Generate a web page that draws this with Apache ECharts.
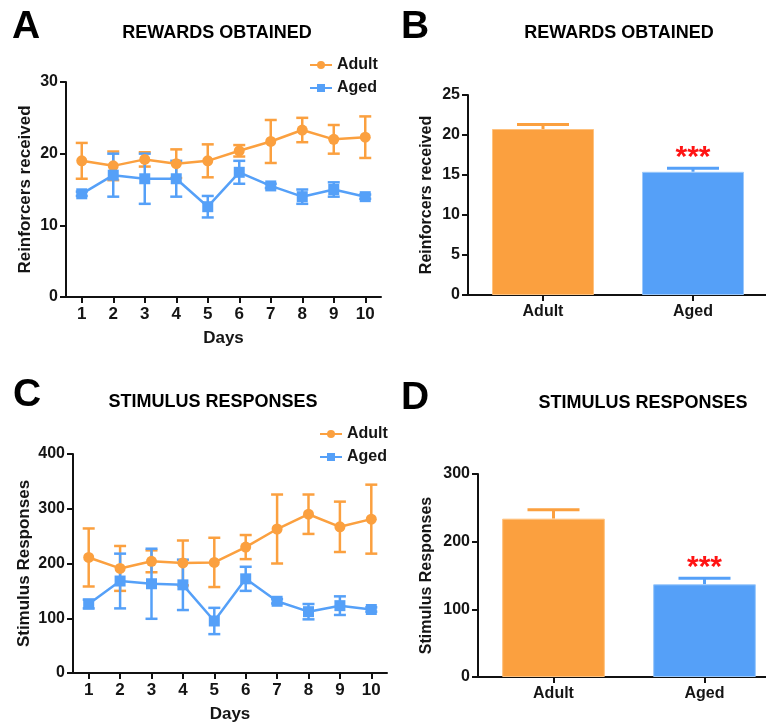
<!DOCTYPE html>
<html><head><meta charset="utf-8">
<script src="https://cdn.jsdelivr.net/npm/echarts@6/dist/echarts.min.js"></script>
<style>html,body{margin:0;padding:0;background:#fff}#c{width:766px;height:723px}</style>
</head><body><div id="c"></div>
<script>
const days = ['1','2','3','4','5','6','7','8','9','10'];
const rewardAdult = [19.0, 18.3, 19.2, 18.6, 19.0, 20.4, 21.7, 23.3, 22.0, 22.3];
const rewardAdultErr = [2.5, 2.0, 1.0, 2.0, 2.3, 0.8, 3.0, 1.7, 2.0, 2.9];
const rewardAged = [14.4, 17.0, 16.5, 16.5, 12.6, 17.4, 15.5, 14.0, 15.0, 14.0];
const rewardAgedErr = [0.3, 3.0, 3.5, 2.5, 1.5, 1.6, 0.3, 1.0, 1.0, 0.3];
const stimAdult = [211, 191, 204, 201, 202, 230, 263, 290, 267, 281];
const stimAdultErr = [53, 41, 20, 41, 45, 22, 63, 36, 46, 63];
const stimAged = [126, 168, 163, 161, 95, 172, 131, 112, 123, 116];
const stimAgedErr = [8, 50, 64, 46, 24, 22, 4, 14, 17, 4];
const groups = ['Adult', 'Aged'];
const rewardTotal = [20.75, 15.4];
const rewardTotalErr = [0.55, 0.45];
const stimTotal = [234, 137];
const stimTotalErr = [13, 9];
const sigMarks = ['', '***'];
const yTicksA = [0, 10, 20, 30];
const yTicksB = [0, 5, 10, 15, 20, 25];
const yTicksC = [0, 100, 200, 300, 400];
const yTicksD = [0, 100, 200, 300];

const ORANGE = '#FBA03F';
const BLUE = '#55A0F8';
const FONT = '"Liberation Sans", Arial, Helvetica, sans-serif';
const TXT = '#151515';

const chart = echarts.init(document.getElementById('c'), null, {renderer: 'canvas'});

function yAxis(gi, ticks, name, nameSize, nameGap) {
  return {
    type: 'value', gridIndex: gi, min: ticks[0], max: ticks[ticks.length - 1],
    interval: ticks[1] - ticks[0],
    name: name, nameLocation: 'middle', nameGap: nameGap,
    nameTextStyle: {fontFamily: FONT, fontWeight: 'bold', fontSize: nameSize, color: TXT},
    axisLine: {show: true, lineStyle: {color: '#111', width: 2}},
    axisTick: {show: true, length: 6, lineStyle: {color: '#111', width: 2}},
    axisLabel: {fontFamily: FONT, fontWeight: 'bold', fontSize: 16, color: TXT, margin: 8},
    splitLine: {show: false}
  };
}
function xAxis(gi, cats, name, fontSize, margin) {
  return {
    type: 'category', gridIndex: gi, data: cats, boundaryGap: true,
    name: name, nameLocation: 'middle', nameGap: 33,
    nameTextStyle: {fontFamily: FONT, fontWeight: 'bold', fontSize: 17, color: TXT},
    axisLine: {show: true, lineStyle: {color: '#111', width: 2}},
    axisTick: {show: true, alignWithLabel: true, length: 6, lineStyle: {color: '#111', width: 2}},
    axisLabel: {fontFamily: FONT, fontWeight: 'bold', fontSize: fontSize, color: TXT, margin: margin, interval: 0},
    splitLine: {show: false}
  };
}

function errSeries(name, gi, means, errs, color) {
  return {
    type: 'custom', name: name, xAxisIndex: gi, yAxisIndex: gi, z: 4,
    encode: {x: 0, y: 1},
    data: means.map((m, i) => [i, m, errs[i]]),
    renderItem: function (params, api) {
      const i = api.value(0), m = api.value(1), e = api.value(2);
      const top = api.coord([i, m + e]);
      const bot = api.coord([i, m - e]);
      const hw = 6;
      const st = {stroke: color, lineWidth: 2.5};
      return {type: 'group', children: [
        {type: 'line', shape: {x1: top[0], y1: top[1], x2: bot[0], y2: bot[1]}, style: st},
        {type: 'line', shape: {x1: top[0] - hw, y1: top[1], x2: top[0] + hw, y2: top[1]}, style: st},
        {type: 'line', shape: {x1: bot[0] - hw, y1: bot[1], x2: bot[0] + hw, y2: bot[1]}, style: st}
      ]};
    }
  };
}

function lineSeries(name, gi, data, color, symbol) {
  return {
    type: 'line', name: name, xAxisIndex: gi, yAxisIndex: gi, data: data, z: 5,
    symbol: symbol, symbolSize: 11,
    itemStyle: {color: color}, lineStyle: {color: color, width: 2.5}
  };
}

function barSeries(name, gi, data) {
  return {
    type: 'bar', name: name, xAxisIndex: gi, yAxisIndex: gi, barWidth: '68%', z: 3,
    data: data.map((v, i) => ({value: v, itemStyle: {color: i === 0 ? ORANGE : BLUE,
      borderColor: i === 0 ? '#FFC27F' : '#9BC8FB', borderWidth: 1}}))
  };
}

function barErrSeries(name, gi, means, errs) {
  return {
    type: 'custom', name: name, xAxisIndex: gi, yAxisIndex: gi, z: 2, encode: {x: 0, y: 1},
    data: means.map((m, i) => [i, m, errs[i]]),
    renderItem: function (params, api) {
      const colors = [ORANGE, BLUE];
      const i = api.value(0), m = api.value(1), e = api.value(2);
      const top = api.coord([i, m + e]);
      const bot = api.coord([i, m]);
      const st = {stroke: colors[params.dataIndex], lineWidth: 3};
      const hw = 26;
      const ch = [
        {type: 'line', shape: {x1: top[0], y1: top[1], x2: bot[0], y2: bot[1]}, style: st},
        {type: 'line', shape: {x1: top[0] - hw, y1: top[1], x2: top[0] + hw, y2: top[1]}, style: st}
      ];
      const mk = sigMarks[params.dataIndex];
      if (mk) ch.push({type: 'text', style: {text: mk, x: top[0], y: top[1] - 10, align: 'center',
        verticalAlign: 'middle', fill: '#FF1414', font: 'bold 30px ' + FONT}});
      return {type: 'group', children: ch};
    }
  };
}

function txt(t, x, y, size) {
  return {type: 'text', x: x, y: y, style: {text: t, fill: '#000', font: 'bold ' + size + 'px ' + FONT,
    align: 'center', verticalAlign: 'middle'}};
}

const legendCommon = {
  data: ['Adult', 'Aged'], orient: 'vertical', itemWidth: 22, itemHeight: 10, itemGap: 7,
  textStyle: {fontFamily: FONT, fontWeight: 'bold', fontSize: 16, color: TXT}
};

chart.setOption({
  animation: false,
  graphic: [
    txt('A', 26, 27, 39), txt('REWARDS OBTAINED', 217, 33, 18),
    txt('B', 415, 27, 39), txt('REWARDS OBTAINED', 619, 33, 18),
    txt('C', 27, 395, 39), txt('STIMULUS RESPONSES', 213, 402, 18),
    txt('D', 415, 398, 39), txt('STIMULUS RESPONSES', 643, 403, 18)
  ],
  legend: [
    Object.assign({left: 304, top: 52}, legendCommon),
    Object.assign({left: 314, top: 421}, legendCommon)
  ],
  grid: [
    {left: 66, top: 82, width: 315, height: 215, outerBoundsMode: 'none', containLabel: false},
    {left: 468, top: 95, width: 300, height: 200, outerBoundsMode: 'none', containLabel: false},
    {left: 73, top: 454, width: 314, height: 219, outerBoundsMode: 'none', containLabel: false},
    {left: 478, top: 474, width: 302, height: 203, outerBoundsMode: 'none', containLabel: false}
  ],
  xAxis: [
    xAxis(0, days, 'Days', 17, 9),
    xAxis(1, groups, '', 16, 9),
    xAxis(2, days, 'Days', 17, 9),
    xAxis(3, groups, '', 16, 9)
  ],
  yAxis: [
    yAxis(0, yTicksA, 'Reinforcers received', 17, 32),
    yAxis(1, yTicksB, 'Reinforcers received', 16, 33),
    yAxis(2, yTicksC, 'Stimulus Responses', 17, 40),
    yAxis(3, yTicksD, 'Stimulus Responses', 16, 43)
  ],
  series: [
    errSeries('Adult err A', 0, rewardAdult, rewardAdultErr, ORANGE),
    errSeries('Aged err A', 0, rewardAged, rewardAgedErr, BLUE),
    lineSeries('Adult', 0, rewardAdult, ORANGE, 'circle'),
    lineSeries('Aged', 0, rewardAged, BLUE, 'rect'),
    errSeries('Adult err C', 2, stimAdult, stimAdultErr, ORANGE),
    errSeries('Aged err C', 2, stimAged, stimAgedErr, BLUE),
    lineSeries('Adult', 2, stimAdult, ORANGE, 'circle'),
    lineSeries('Aged', 2, stimAged, BLUE, 'rect'),
    barSeries('Rewards total', 1, rewardTotal),
    barErrSeries('Rewards err', 1, rewardTotal, rewardTotalErr),
    barSeries('Stimulus total', 3, stimTotal),
    barErrSeries('Stimulus err', 3, stimTotal, stimTotalErr)
  ]
});
</script></body></html>
